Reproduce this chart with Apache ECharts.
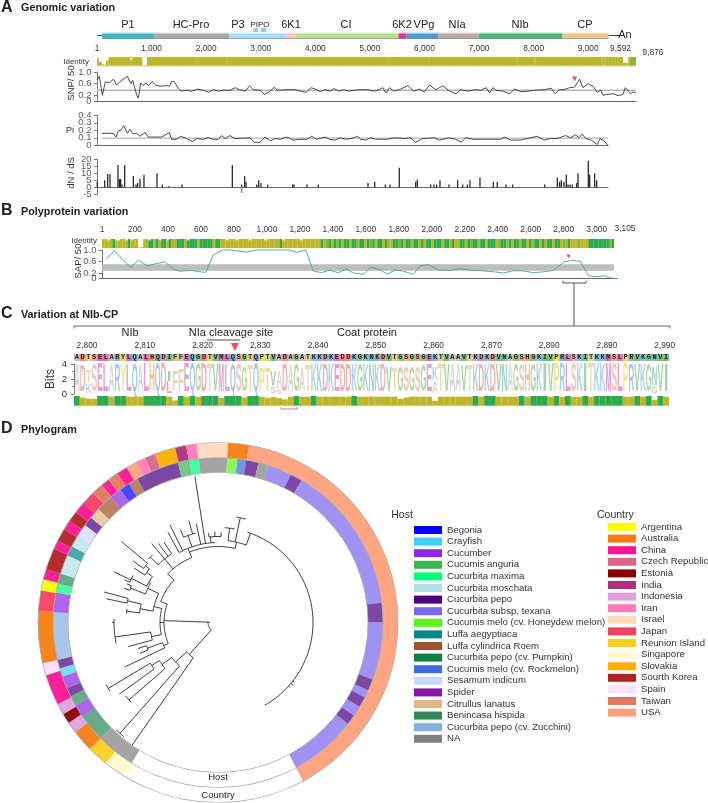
<!DOCTYPE html>
<html><head><meta charset="utf-8">
<style>html,body{margin:0;padding:0;background:#fff}#c{width:708px;height:803px}</style>
<script src="https://cdn.jsdelivr.net/npm/echarts@6/dist/echarts.min.js"></script>
</head><body><div id="c"></div>
<script>
// ---------- Panel A ----------
const geneNames  = ['P1','HC-Pro','P3','6K1','CI','6K2','VPg','NIa','NIb','CP'];
const geneStarts = [92,1046,2422,3468,3633,5523,5670,6257,6991,8532];
const geneEnds   = [1046,2422,3468,3633,5523,5670,6257,6991,8532,9376];
const geneColors = ['#3cb8c8','#a8a8a8','#a8dcf8','#f8c8b8','#b8e090','#e8309c','#4a9ad8','#b8a8a0','#48b878','#f4c488'];
const pipoStarts = [2862,3000], pipoEnds = [2950,3100];
const genomeTicks = [1,1000,2000,3000,4000,5000,6000,7000,8000,9000,9592];
const genomeMinorTicks = [1,500,1000,1500,2000,2500,3000,3500,4000,4500,5000,5500,6000,6500,7000,7500,8000,8500,9000,9592];

const identAStart = [1,31,86,128,165,208,618,642,832,917,1829,1847,2379,2397,5345,5364,6049,6067,7682,7700,8018,8036,9241,9259,9302,9321,9504,9535,9639,9731,9761];
const identAEnd   = [31,86,128,165,208,618,642,832,917,1829,1847,2379,2397,5345,5364,6049,6067,7682,7700,8018,8036,9241,9259,9302,9321,9504,9535,9639,9731,9761,9876];
const identALevel = [.9,.45,.15,.1,.55,.95,.6,.95,.05,.97,.97,.97,.97,.97,.97,.97,.97,.97,.97,.97,.97,.97,.97,.97,.97,.97,.97,.97,.3,.9,.97];
const identAClass = [0,0,0,0,0,0,0,0,0,0,2,0,2,0,2,0,2,0,2,0,2,0,2,0,2,0,2,0,0,0,2];

const snpPos = [1,43,98,153,226,300,361,434,557,618,654,728,758,801,850,899,942,1009,1083,1156,1278,1327,1364,1413,1492,1535,1645,1737,1841,1951,2043,2134,2226,2318,2440,2532,2611,2715,2795,2868,2991,3064,3143,3248,3309,3480,3633,3725,3835,3920,4000,4091,4183,4275,4336,4428,4520,4611,4715,4807,4960,5082,5174,5235,5296,5358,5437,5541,5694,5804,5908,5999,6091,6214,6336,6458,6581,6660,6795,6917,7039,7131,7192,7253,7315,7437,7559,7651,7773,7896,8018,8201,8324,8397,8476,8556,8660,8751,8843,8904,8996,9088,9168,9229,9271,9363,9473,9547,9638,9681,9779,9822,9876];
const snpVal = [.74,.85,.2,.66,.63,.75,.55,.69,.85,.6,.71,.2,.1,.62,.54,.62,.53,.67,.54,.51,.53,.51,.67,.67,.43,.34,.37,.34,.41,.37,.3,.39,.34,.37,.37,.46,.39,.34,.52,.39,.37,.23,.3,.47,.37,.39,.39,.34,.3,.46,.41,.32,.39,.34,.43,.34,.39,.34,.37,.39,.39,.34,.39,.46,.28,.46,.34,.39,.53,.34,.41,.31,.55,.39,.53,.34,.25,.39,.34,.39,.37,.46,.28,.46,.37,.34,.25,.41,.32,.34,.37,.39,.44,.25,.39,.39,.46,.48,.75,.46,.6,.51,.3,.37,.2,.23,.25,.18,.23,.46,.25,.32,.28];
const snpMean = 0.37;

const piPos = [86,300,349,391,434,495,557,605,667,728,789,881,942,1095,1186,1327,1370,1462,1535,1645,1755,1829,1951,2043,2134,2226,2287,2349,2440,2532,2807,2881,2991,3082,3143,3186,3266,3358,3480,3602,3725,3847,3939,4030,4183,4275,4367,4459,4581,4715,4777,4838,4929,5021,5113,5327,5449,5633,5755,5847,5969,6183,6283,6458,6581,6685,6764,6917,7162,7406,7480,7590,7773,7896,8079,8201,8324,8446,8599,8691,8783,8843,8904,8966,9070,9180,9229,9302,9376];
const piVal = [.16,.16,.11,.19,.2,.26,.16,.21,.15,.16,.12,.17,.11,.11,.11,.17,.08,.08,.12,.09,.05,.09,.08,.1,.08,.08,.13,.09,.13,.09,.1,.04,.04,.11,.08,.06,.09,.08,.11,.07,.08,.08,.12,.08,.11,.08,.07,.1,.08,.1,.12,.08,.07,.1,.08,.08,.1,.09,.1,.04,.09,.1,.07,.1,.08,.04,.1,.08,.08,.08,.11,.07,.07,.09,.12,.07,.09,.09,.13,.1,.14,.1,.15,.09,.07,.01,.09,.06,0];
const piMean = 0.095;
const piTicks = [0,.1,.2,.3,.4];

const dndsPos = [5,141,196,239,385,410,434,459,508,667,716,746,789,862,1101,1199,1321,1560,2483,2654,2655,2709,2734,2930,2966,3009,3131,3590,3615,3853,4061,4972,5095,5290,5376,5547,5847,5878,6122,6183,6232,6293,6458,6617,6709,6795,6844,7027,7272,7345,7504,7626,8214,8446,8489,8520,8569,8611,8642,8679,8722,8801,8826,9015,9040,9131,9168];
const dndsVal = [4,5,9.5,9.5,16,6,6,2,16,8,2,3,6,9,10,2,1,2,16,2,-4,8,4,2,5,3,2,2,2,2,2,3,4,2,2,14,4,5.5,2,2,2,5,2,5,2,2,5,7,4,4,2,2,2,7,4,5,4,9,2,2,2,3,10,19,9,10,5];
const dndsTicks = [-5,0,5,10,15,20];

// ---------- Panel B ----------
const proteinTicks = [1,200,400,600,800,1000,1200,1400,1600,1800,2000,2200,2400,2600,2800,3000];
const identBClassRuns = ['00001000001000010011010110100','11101111011111011','000000000000000000000001000000000000000',
 '1021012101101101101210110100112101101101011011101101001101211011011102110101101101011010110110','2010002000','1111111121'];
const identBDips = [2,5,6,9,11,18,22,25,33,48,52,57,63,70,77];
const identBGaps = [14,15];
const sapPos = [24,75,125,174,220,277,331,382,432,473,543,594,630,675,735,786,877,927,1139,1180,1236,1281,1331,1382,1432,1483,1527,1588,1628,1679,1729,1780,1830,1887,1931,1982,2042,2113,2174,2234,2315,2375,2436,2496,2557,2618,2678,2739,2800,2850,2901,2951,3001,3042,3082,3119];
const sapVal = [.67,.98,.67,.4,.64,.45,.53,.59,.33,.26,.29,.24,.22,.83,1,1,.92,1,1,.92,1,.27,.21,.3,.21,.34,.19,.16,.4,.33,.16,.3,.26,.15,.45,.49,.3,.29,.35,.3,.27,.24,.2,.28,.27,.21,.24,.29,.58,.64,.6,.1,.07,.1,.03,0];
const sapBandLow = 0.28, sapBandHigh = 0.5;

// ---------- Panel C ----------
const residues = 'ADTSELARYLQALHQDIFFEQGDTVMLQSGTQPTVADAGATKKDKEDDKGKNKDVTGSGSGEKTVAAVTKDKDVNAGSHGKIVPRLSKITKKMSLPRVKGNVI';
const residueTickPos = [2.25,12.25,22.25,32.25,42.25,52.25,62.25,72.25,82.25,92.25,102.25];
const residueTickLabels = ['2,800','2,810','2,820','2,830','2,840','2,850','2,860','2,870','2,890','2,890','2,990'];
const logoTop = [3.7,3.5,3,3.8,3.9,3.9,3.7,3.8,3.8,3.8, 3.8,3.6,3.9,3.9,3.9,3.9,3,2.9,3,3.9, 3.9,3.9,3.9,3.8,3.7,3.8,3.8,3.7,3.7,3.3,
 3.6,3.9,3.2,3.2,3,2.8,3.8,3.6,3.8,3.2, 3.5,3.8,3.8,3.7,3.8,3.8,3.8,3.8,3.8,3.7, 3.8,3.7,3.8,3.7,3.4,3.2,3.3,3.3,3.4,3.3,
 3.6,3.8,3.4,3.7,3.7,3.7,3.7,3.6,3.5,3.8, 3.8,3.8,3.8,3.7,3.7,3.8,3.8,3.8,3.8,3.8, 3.8,3.9,3.9,3.9,3.9,3.9,3.9,3.9,3.9,3.9,
 3.9,3.9,3.9,3.9,3.9,3.9,3.8,3.8,3.8,3.8, 3.3,3.7,3.8];
const logoMinorIdx = [2,16,34,35,62,100], logoMinorLetter = ['K','L','S','S','A','G'], logoMinorTop = [1.2,1.6,.8,.5,1.6,.9];
const identCGreen = [0,4,5,7,8,12,13,14,15,18,20,22,23,24,26,27,28,30,31,38,41,48,69,71,72,77,79,80,81,83,85,88,90,91,92,93,94,97,99,101];
const identCDipIdx = [1,2,3,17,25,29,33,34,35,36,56,57,62,100], identCDipLevel = [.85,.72,.72,.55,.8,.85,.82,.88,.78,.65,.7,.85,.5,.6];
const aaColors = {A:'#b4b4b4',D:'#e46a6a',E:'#c050a8',F:'#c8b070',G:'#74b050',H:'#e88b30',I:'#48a868',K:'#5aa8dc',L:'#d84898',M:'#c040a0',N:'#40a898',P:'#e8d020',Q:'#4a98d0',R:'#58a0c8',S:'#e89080',T:'#d8c060',V:'#50a850',Y:'#d8d020'};

// ---------- Panel D ----------
const hostNames = ['Begonia','Crayfish','Cucumber','Cucumis anguria','Cucurbita maxima','Cucurbita moschata','Cucurbita pepo','Cucurbita subsp. texana','Cucumis melo (cv. Honeydew melon)','Luffa aegyptiaca','Luffa cylindrica Roem','Cucurbita pepo (cv. Pumpkin)','Cucumis melo (cv. Rockmelon)','Sesamum indicum','Spider','Citrullus lanatus','Benincasa hispida','Cucurbita pepo (cv. Zucchini)','NA'];
const hostColors = ['#0000ff','#40d0f5','#8a2be2','#3cb550','#00ff7f','#b0e0e6','#4b0082','#7b68ee','#5cf51a','#008b8b','#a0522d','#118040','#4169e1','#ccd8f8','#8b1aaa','#deb887','#2e8b57','#85b0e0','#808080'];
const countryNames = ['Argentina','Australia','China','Czech Republic','Estonia','India','Indonesia','Iran','Israel','Japan','Reunion Island','Singapore','Slovakia','Sourth Korea','Spain','Taiwan','USA'];
const countryColors = ['#ffff00','#f57c10','#ff1493','#d8668e','#8b0000','#b03080','#dda0dd','#ff7ab8','#ffdab9','#f54060','#ffd020','#fffacd','#ffb000','#b22222','#ffe0ff','#e07860','#ffa07a'];
const hostRingIdx   = [18,16,2,16,6,2,1,6,17,2,4,16,5,9,5,13,6,15,10,2,0,10,6,3,4,18,8,12,6,18,7,6,7,6,7,6,7,6,7,6,7];
const hostRingSpan  = [13.9,9.7,4.6,3.6,3,4.4,3,3.1,16.7,6.9,3.2,3.6,6.7,3.5,4.5,4.2,3.3,4,6,4.2,3.5,3.5,15.2,4.1,3.3,9.9,3.6,3.1,4.4,3.4,8.5,4.3,52.6,6.9,20.2,4.1,2.7,3.8,3.6,3.6,23.7];
const hostGapSpan = 59.9;
const countryRingIdx  = [11,10,1,6,4,6,2,14,1,9,0,2,13,2,13,2,13,2,9,15,2,15,2,16,7,3,12,5,7,8,1,16];
const countryRingSpan = [7.5,6.8,7.2,3.6,3.3,3.6,10,3.9,16.8,6.6,3.6,3.3,7,2.8,4.2,3.2,3.4,3.8,4.5,3.7,2.7,3.5,3.5,3.4,3.2,3.4,6.7,3.6,3.4,10,6.8,141.8];
const countryGapSpan = 59.2;
// tree branches: radial [radius from, angle, radius to]; arc [radius, angle from, angle to]
const treeRadial = [[8,272,54],[10,222,43],[43,215,150],[43,227,58],[58,221.5,148],[58,233,70],[70,229,118],[70,237,79],[79,234,122],[79,239,128],
 [54,247,59],[59,244.5,103],[59,250,75],[75,248.5,84],[75,252,84],[54,270,58],[58,258,68],[68,255,93],[68,262,104],[104,270,106],
 [58,284,66],[66,280,79],[79,277,92],[79,283.5,93],[93,282,114],[93,285,118],[66,296,78],[78,291.5,94],[94,290,100],[94,293,99],[78,300,80],[80,297,97],[97,296,116],[97,294.5,103],[80,305,87],[87,303,100],[87,308,92],[92,306,105],[92,310,126],
 [54,290,61],[61,314,70],[70,320,83],[83,314,94],[83,320,103],[83,323,99],[83,326,97],[70,338,76],[76,338,80],[80,331,103],[80,333.8,109],[80,347.6,101],[80,351,148],[80,341,92],[92,338,100],[92,344,106],[80,355,86],[86,354,90],[86,358,91],[86,362,90],
 [76,13,82.4],[82.4,7,95],[82.4,12,107],[82.4,20,95],[95,128,97],[95,130,98],[95,132,97]];
const treeArc = [[10,222,272],[43,215,227],[58,221.5,233],[70,229,237],[79,234,239],[148,219.5,223.5],[118,227.5,231.5],[128,237.5,241],
 [54,247,290],[59,244.5,250],[75,248.5,252],[58,258,284],[68,255,262],[104,258.5,272],[66,280,296],[79,277,283.5],[92,275.5,278.5],[93,282,285],[78,291.5,300],[94,290,293],[80,297,305],[97,294.5,299],[87,303,308],[92,306,310],
 [61,290,314],[70,314,338],[83,314,326],[94,312.5,316],[76,338,373],[80,331,358],[92,338,346],[86,354,362],[82.4,7,20],[95,4,10],[107,10,15],[95,18,150.6]];

// ---------- helpers ----------
const FF = '"Liberation Sans",Arial,sans-serif';
const OLIVE='#bdb52a', GREEN='#2eaa4e', MID='#82b834', PALE='#e9e8cc';
const classColor = [OLIVE,GREEN,MID,PALE];
const zip=(a,b)=>a.map((v,i)=>[v,b[i]]);
function rectSeries(g,data,fillOf,extra){
  return Object.assign({type:'custom',xAxisIndex:g,yAxisIndex:g,data,silent:true,encode:{x:[0,1],y:[2,3]},
    renderItem(p,api){
      const a=api.coord([api.value(0),api.value(3)]),b=api.coord([api.value(1),api.value(2)]);
      return {type:'rect',shape:{x:a[0],y:a[1],width:b[0]-a[0],height:b[1]-a[1]},style:{fill:fillOf(p.dataIndex)}};
    }},extra||{});
}
function lineS(g,data,color,width,z){return {type:'line',xAxisIndex:g,yAxisIndex:g,data,symbol:'none',silent:true,connectNulls:false,clip:false,z:z||3,lineStyle:{color,width}};}
function grad(c){return new echarts.graphic.LinearGradient(0,0,0,1,[{offset:0,color:'#ffffff'},{offset:.35,color:c},{offset:.8,color:c},{offset:1,color:'#8a8a8a'}]);}
const grids=[[97,539,27,12],[97,539,56.7,10.3],[97,539,72,29],[97,511,115.3,30],[97,511,159.3,35],[102,512,239,9],[102,515.3,250,28.7],[74,595,354,7],[74,595,364,30],[74,595,396,9.7]];
const hiddenX=(min,max)=>({type:'value',show:false,min,max});
const hiddenY=(min,max)=>({type:'value',show:false,min,max});
const axText={fontFamily:FF,color:'#333'};
const baseLine=(min,max)=>({type:'value',min,max,axisLine:{show:true,onZero:true,lineStyle:{color:'#666',width:1.2}},axisTick:{show:false},axisLabel:{show:false},splitLine:{show:false}});
const leftAxis=(min,max,o)=>Object.assign({type:'value',min,max,offset:1,axisLine:{show:true,lineStyle:{color:'#555',width:.8}},axisTick:{show:true,length:3,lineStyle:{color:'#555',width:.8}},axisLabel:{show:false},splitLine:{show:false}},o||{});
const fmt1=v=>v===0?'0':v.toFixed(1);
const xLabel=o=>Object.assign({fontSize:8.3,margin:4,hideOverlap:false,showMinLabel:true,showMaxLabel:true},axText,o);
const xAxes=[
 hiddenX(0,9876),
 {type:'value',position:'top',min:0,max:9876,axisLine:{show:false},splitLine:{show:false},
  axisTick:{show:true,length:2.5,customValues:genomeMinorTicks,lineStyle:{color:'#888',width:.7}},
  axisLabel:xLabel({customValues:genomeTicks,formatter:v=>v.toLocaleString('en-US')})},
 baseLine(0,9876),baseLine(0,9376),baseLine(0,9376),
 {type:'value',position:'top',min:0,max:3105,axisLine:{show:false},splitLine:{show:false},
  axisTick:{show:true,length:2.5,customValues:proteinTicks,lineStyle:{color:'#888',width:.7}},
  axisLabel:xLabel({margin:5,customValues:proteinTicks,formatter:v=>v.toLocaleString('en-US')})},
 baseLine(0,3125),
 {type:'value',position:'top',min:0,max:103,axisLine:{show:false},splitLine:{show:false},
  axisTick:{show:true,length:2,customValues:residueTickPos,lineStyle:{color:'#888',width:.7}},
  axisLabel:xLabel({customValues:residueTickPos,formatter:v=>residueTickLabels[residueTickPos.indexOf(v)]})},
 hiddenX(0,103),hiddenX(0,103)];
const snpTicks=[0,.2,.6,1];
const yAxes=[
 hiddenY(0,1),hiddenY(-.15,1),
 leftAxis(0,1,{axisTick:{show:true,length:3,customValues:snpTicks,lineStyle:{color:'#555',width:.8}}}),
 leftAxis(0,.4,{interval:.1}),
 leftAxis(-5,20,{interval:5}),
 hiddenY(0,1),
 leftAxis(0,1,{offset:0,axisTick:{show:true,length:3,customValues:snpTicks,lineStyle:{color:'#555',width:.8}}}),
 hiddenY(0,1),
 leftAxis(0,4,{offset:3,interval:2,minorTick:{show:true,splitNumber:2,length:2,lineStyle:{color:'#555',width:.7}},axisLabel:Object.assign({show:true,fontSize:9.5,margin:4},axText)}),
 hiddenY(0,1)];
// y tick labels are placed at their axis values (the library thins tight axis labels)
const tickLabels=(g,x,ticks,fmt,dist)=>({type:'scatter',xAxisIndex:g,yAxisIndex:g,data:ticks.map(v=>[x,v]),symbol:'circle',symbolSize:1,clip:false,silent:true,z:6,
  itemStyle:{color:'rgba(0,0,0,0)'},labelLayout:{hideOverlap:false},
  label:{show:true,position:'left',distance:dist||5,fontSize:9.5,fontFamily:FF,color:'#333',formatter:p=>fmt(p.value[1])}});

// data assembly
const identAData=identAStart.map((s,i)=>[s,identAEnd[i],0,identALevel[i]]);
const identAStrip=[[1,9876,-.15,0]];
const identBClass=identBClassRuns.join('').split('').map(Number);
const binW=3105/identBClass.length;
const identBData=identBClass.map((c,i)=>[i*binW,(i+1)*binW+.8,0,identBGaps.includes(i)?.06:identBDips.includes(i)?.86:1]);
const seqData=residues.split('').map((c,i)=>[i,i+1,0,1]);
const identCData=residues.split('').map((c,i)=>{const d=identCDipIdx.indexOf(i);return [i,i+1,0,d>=0?identCDipLevel[d]:identCGreen.includes(i)?1:.93];});
const logoData=[];
residues.split('').forEach((c,i)=>{const m=logoMinorIdx.indexOf(i);logoData.push([i,i+1,m>=0?logoMinorTop[m]:0,logoTop[i],c]);});
logoMinorIdx.forEach((idx,k)=>logoData.push([idx,idx+1,0,logoMinorTop[k],logoMinorLetter[k]]));
const mctx=document.createElement('canvas').getContext('2d');mctx.font='bold 20px '+FF;
const ringData=(idx,span,colors,names,gap,op)=>idx.map((k,i)=>({value:span[i],name:names[k]+' '+i,itemStyle:{color:colors[k],opacity:op}})).concat([{value:gap,name:'gap',itemStyle:{color:'rgba(0,0,0,0)'}}]);
const pieBase=(radius,startAngle,data)=>({type:'pie',center:[218,622.5],radius,startAngle,clockwise:true,silent:true,label:{show:false},labelLine:{show:false},avoidLabelOverlap:false,emphasis:{disabled:true},data,z:2});
const outline=r=>pieBase([r-.35,r+.35],90,[{value:1,name:'ring',itemStyle:{color:'#a8a8a8',opacity:1}}]);
const treeStyle={stroke:'#2a2a2a',lineWidth:.9,fill:null};

const series=[
 // A gene map
 rectSeries(0,geneStarts.map((s,i)=>[s,geneEnds[i],0,.583]),i=>grad(geneColors[i])),
 rectSeries(0,pipoStarts.map((s,i)=>[s,pipoEnds[i],.583,.92]),()=>'#8fd0f2'),
 lineS(0,[[1,.29],[92,.29],[null,null],[9376,.29],[9592,.29]],'#222',.9),
 rectSeries(1,identAStrip,()=>PALE),
 rectSeries(1,identAData,i=>classColor[identAClass[i]]),
 lineS(2,[[0,snpMean],[9876,snpMean]],'#b8b8b8',1.6,2),
 lineS(2,zip(snpPos,snpVal),'#2a2a2a',.85),
 {type:'scatter',xAxisIndex:2,yAxisIndex:2,data:[[8752,.76]],symbol:'triangle',symbolRotate:180,symbolSize:5,clip:false,silent:true,itemStyle:{color:'#e8204a'}},
 tickLabels(2,0,snpTicks,fmt1),
 lineS(3,[[86,piMean],[9376,piMean]],'#b8b8b8',1.2,2),
 lineS(3,zip(piPos,piVal),'#2a2a2a',.85),
 tickLabels(3,0,piTicks,fmt1),
 {type:'bar',xAxisIndex:4,yAxisIndex:4,data:zip(dndsPos,dndsVal),barWidth:1.3,silent:true,clip:false,itemStyle:{color:p=>p.value[1]<0?'#888':'#2a2a2a'}},
 tickLabels(4,0,dndsTicks,v=>String(v)),
 // B
 rectSeries(5,identBData,i=>classColor[identBClass[i]]),
 rectSeries(6,[[1,3105,sapBandLow,sapBandHigh]],()=>'#bdbdbd'),
 lineS(6,zip(sapPos,sapVal),'#3fae72',.9),
 {type:'scatter',xAxisIndex:6,yAxisIndex:6,data:[[2830,.77]],symbol:'triangle',symbolRotate:180,symbolSize:4,clip:false,silent:true,itemStyle:{color:'#e8204a'}},
 tickLabels(6,0,snpTicks,fmt1),
 // C
 {type:'custom',xAxisIndex:7,yAxisIndex:7,data:seqData,silent:true,encode:{x:[0,1],y:[2,3]},
  renderItem(p,api){
   const a=api.coord([api.value(0),1]),b=api.coord([api.value(1),0]);const c=residues[p.dataIndex];
   return {type:'group',children:[
     {type:'rect',shape:{x:a[0],y:a[1],width:b[0]-a[0]+.2,height:b[1]-a[1]},style:{fill:aaColors[c],opacity:.75}},
     {type:'text',x:(a[0]+b[0])/2,y:(a[1]+b[1])/2,style:{text:c,font:'bold 7px "Liberation Mono",monospace',fill:'#222',textAlign:'center',textVerticalAlign:'middle'}}]};
  }},
 {type:'custom',xAxisIndex:8,yAxisIndex:8,data:logoData,silent:true,encode:{x:[0,1],y:[2,3]},
  renderItem(p,api){
   const d=logoData[p.dataIndex];const a=api.coord([d[0],d[3]]),b=api.coord([d[1],d[2]]);
   const w=mctx.measureText(d[4]).width,cw=b[0]-a[0],h=b[1]-a[1];
   return {type:'text',x:(a[0]+b[0])/2,y:(a[1]+b[1])/2,scaleX:Math.min(cw*1.02/w,d[4]==='I'?.8:2),scaleY:h/14.4,
     style:{text:d[4],font:'bold 20px '+FF,fill:aaColors[d[4]],opacity:.52,textAlign:'center',textVerticalAlign:'middle'}};
  }},
 rectSeries(9,identCData,i=>identCGreen.includes(i)?GREEN:OLIVE),
 {type:'scatter',xAxisIndex:7,yAxisIndex:7,data:[[27.85,2]],symbol:'triangle',symbolRotate:180,symbolSize:8,clip:false,silent:true,itemStyle:{color:'#e8203a'}},
 // D rings
 pieBase([150,165],90-211.6,ringData(hostRingIdx,hostRingSpan,hostColors,hostNames,hostGapSpan,.72)),
 pieBase([165,180],90-211,ringData(countryRingIdx,countryRingSpan,countryColors,countryNames,countryGapSpan,.95)),
 outline(150),outline(165),outline(180),
 // D tree
 {type:'custom',coordinateSystem:'polar',polarIndex:0,data:treeRadial,silent:true,encode:{radius:[0,2],angle:1},
  renderItem(p,api){
   const t=treeRadial[p.dataIndex];const a=api.coord([t[0],t[1]%360]),b=api.coord([t[2],t[1]%360]);
   return {type:'line',shape:{x1:a[0],y1:a[1],x2:b[0],y2:b[1]},style:treeStyle};
  }},
 {type:'custom',coordinateSystem:'polar',polarIndex:0,data:treeArc,silent:true,encode:{radius:0,angle:[1,2]},
  renderItem(p,api){
   const t=treeArc[p.dataIndex];const n=Math.max(2,Math.ceil((t[2]-t[1])/2));const pts=[];
   for(let i=0;i<=n;i++){pts.push(api.coord([t[0],(t[1]+(t[2]-t[1])*i/n)%360]));}
   return {type:'polyline',shape:{points:pts},style:treeStyle};
  }}
];

// text & annotation
const T=(text,x,y,size,o)=>Object.assign({type:'text',x,y,silent:true,z:50,style:{text,font:(o&&o.bold?'bold ':'')+size+'px '+FF,fill:(o&&o.fill)||'#222',textAlign:(o&&o.align)||'center',textVerticalAlign:'middle'}},o&&o.rot?{rotation:o.rot}:{});
const L=(pts,color,w)=>({type:'polyline',silent:true,z:50,shape:{points:pts},style:{stroke:color,lineWidth:w||1,fill:null}});
const geneLabelX=[128,191,238,291,346,402,424,457,520,585];
const g=[
 T('A',1,8,16,{bold:1,align:'left'}),T('Genomic variation',21,8.5,10.8,{bold:1,align:'left'}),
 T('B',1,211,16,{bold:1,align:'left'}),T('Polyprotein variation',21,212.5,10.8,{bold:1,align:'left'}),
 T('C',1,314,16,{bold:1,align:'left'}),T('Variation at NIb-CP',21,315.5,10.8,{bold:1,align:'left'}),
 T('D',1,429,16,{bold:1,align:'left'}),T('Phylogram',21,430.5,10.8,{bold:1,align:'left'}),
 ...geneNames.map((n,i)=>T(n,geneLabelX[i],25,11)),
 T('PIPO',260,24.5,8),T('An',625,35,11),
 T('9,876',653,53,8.3,{fill:'#333'}),T('3,105',625,229,8.3,{fill:'#333'}),
 T('Identity',89,61.5,8,{align:'right',fill:'#333'}),T('Identity',97,240.5,8,{align:'right',fill:'#333'}),
 T('SNP/ 50',71,83,9.5,{rot:Math.PI/2,fill:'#333'}),T('Pi',70,130,9.5,{fill:'#333'}),T('dN / dS',71,173,9.5,{rot:Math.PI/2,fill:'#333'}),
 T('SAP/ 50',78,261,9.5,{rot:Math.PI/2,fill:'#333'}),
 T('Bits',51,379,12,{rot:Math.PI/2,fill:'#333'}),
 T('NIb',130,333,11),T('NIa cleavage site',231,333,11),T('Coat protein',367,333,11),
 L([[207,340],[240,340]],'#222',.8),
 L([[74,328.5],[74,326],[670,326],[670,328.5]],'#666',1),
 L([[563,280.7],[563,283],[586,283],[586,280.7]],'#555',1),L([[574,283],[574,326]],'#555',1),
 L([[281,407],[281,409],[297,409],[297,407]],'#e0608a',.9),
 T('Host',218,777.7,9.5),T('Country',218,795,9.5),
 T('Host',402,515,10.5,{fill:'#333'}),T('Country',597,515,10.5,{fill:'#333',align:'left'}),
];
hostNames.forEach((n,i)=>{const y=530+i*11.6;g.push({type:'rect',silent:true,z:50,shape:{x:414,y:y-4,width:28,height:8},style:{fill:hostColors[i]}});g.push(T(n,447,y,9.6,{align:'left',fill:'#333'}));});
countryNames.forEach((n,i)=>{const y=527+i*11.6;g.push({type:'rect',silent:true,z:50,shape:{x:608,y:y-4,width:28,height:8},style:{fill:countryColors[i]}});g.push(T(n,641,y,9.6,{align:'left',fill:'#333'}));});

const chart=echarts.init(document.getElementById('c'),null,{renderer:'canvas',width:708,height:803});
chart.setOption({animation:false,backgroundColor:'#fff',tooltip:{show:false},
 grid:grids.map(a=>({left:a[0],width:a[1],top:a[2],height:a[3]})),
 xAxis:xAxes.map((a,i)=>Object.assign(a,{gridIndex:i})),yAxis:yAxes.map((a,i)=>Object.assign(a,{gridIndex:i})),
 polar:{center:[218,622.5],radius:150},
 angleAxis:{show:false,min:0,max:360,startAngle:90,clockwise:true},
 radiusAxis:{show:false,min:0,max:150},
 series,graphic:{elements:g}});
</script></body></html>
